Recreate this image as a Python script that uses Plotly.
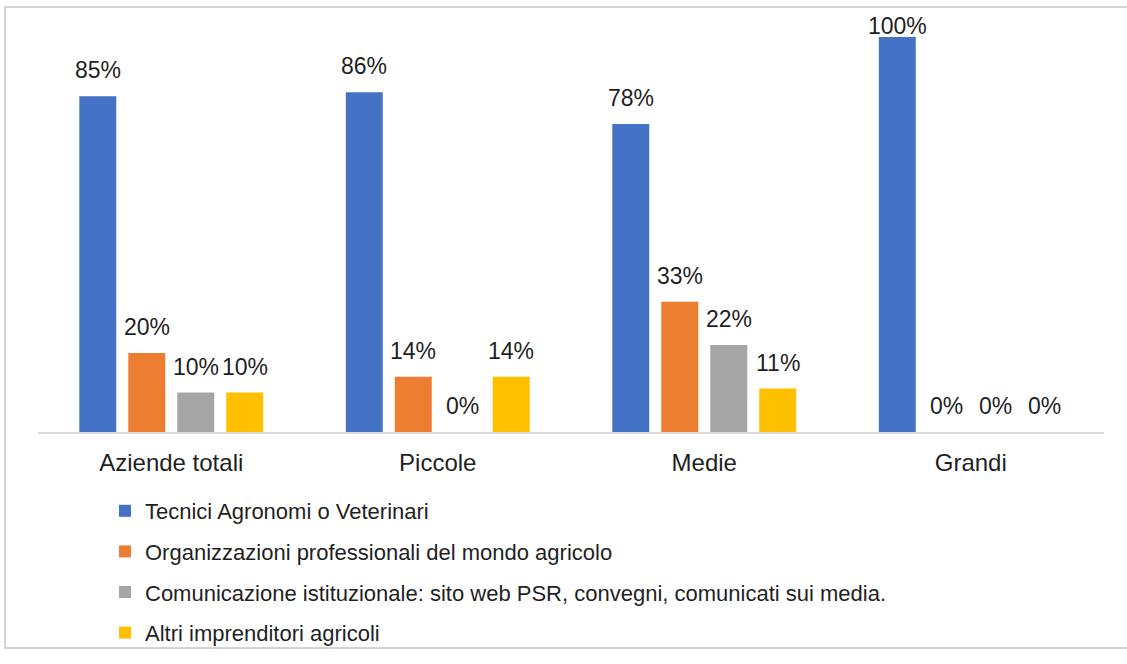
import plotly.graph_objects as go

# Categories (farm size) and share of farms citing each information source
categories = ["Aziende totali", "Piccole", "Medie", "Grandi"]
series_names = [
    "Tecnici Agronomi o Veterinari",
    "Organizzazioni professionali del mondo agricolo",
    "Comunicazione istituzionale: sito web PSR, convegni, comunicati sui media.",
    "Altri imprenditori agricoli",
]
tecnici = [0.85, 0.86, 0.78, 1.00]
organizzazioni = [0.20, 0.14, 0.33, 0.00]
comunicazione = [0.10, 0.00, 0.22, 0.00]
altri = [0.10, 0.14, 0.11, 0.00]

colors = ["#4472C4", "#ED7D31", "#A5A5A5", "#FFC000"]
values = [tecnici, organizzazioni, comunicazione, altri]

FONT = "Liberation Sans, Arial, sans-serif"
TEXT = "#1f1f1f"

# Plot area geometry in pixels
L, R, T, B = 38, 1104, 37, 432
W, H = 1127, 664
pw, ph = R - L, B - T
BARGAP, GROUPGAP = 0.265, 0.245
n_series = len(values)
cat_px = pw / len(categories)
slot_px = cat_px * (1 - BARGAP) / n_series


def px_x(p):
    return (p - L) / pw


def px_y(p):
    return (B - p) / ph


fig = go.Figure()
annotations = []
LABEL_PAD = 11       # gap between bar top and its value label
LABEL_H = 24         # label height used to keep labels inside the chart
TOP_LIMIT = 17       # labels stay below this pixel row
for i, (name, vals, col) in enumerate(zip(series_names, values, colors)):
    fig.add_trace(go.Bar(
        x=categories,
        y=vals,
        name=name,
        legendgroup=f"g{i}",
        marker=dict(color=col, line=dict(width=0)),
        cliponaxis=False,
    ))
    xshift = (i - (n_series - 1) / 2) * slot_px
    for cat, v in zip(categories, vals):
        bar_h = v * ph
        yshift = min(LABEL_PAD, B - bar_h - LABEL_H - TOP_LIMIT)
        annotations.append(dict(
            x=cat, y=v, xref="x", yref="y",
            text=f"{v:.0%}",
            showarrow=False,
            xanchor="center", yanchor="bottom",
            xshift=xshift,
            yshift=yshift,
            font=dict(size=23, color=TEXT, family=FONT),
        ))

fig.update_layout(
    width=W,
    height=H,
    margin=dict(l=L, r=W - R, t=T, b=H - B, autoexpand=False),
    paper_bgcolor="white",
    plot_bgcolor="white",
    barmode="group",
    bargap=BARGAP,
    bargroupgap=GROUPGAP,
    font=dict(family=FONT, color=TEXT),
    showlegend=True,
    annotations=annotations,
    legend=dict(
        orientation="v",
        xref="container",
        yref="container",
        x=105 / W,
        y=1 - 490 / H,
        xanchor="left",
        yanchor="top",
        font=dict(size=22, color=TEXT, family=FONT),
        tracegroupgap=9,
        bgcolor="rgba(0,0,0,0)",
        traceorder="grouped",
    ),
    xaxis=dict(
        showgrid=False,
        showline=True,
        linecolor="#d9d9d9",
        linewidth=2,
        ticks="",
        tickfont=dict(size=24, color=TEXT, family=FONT),
        ticklabelstandoff=8,
        zeroline=False,
        automargin=False,
    ),
    yaxis=dict(
        range=[0, 1.0],
        visible=False,
        showgrid=False,
        zeroline=False,
        automargin=False,
    ),
    shapes=[
        dict(
            type="rect",
            xref="paper",
            yref="paper",
            x0=px_x(5),
            x1=px_x(1140),
            y0=px_y(648),
            y1=px_y(7),
            line=dict(color="#d4d4d4", width=2),
            fillcolor="rgba(0,0,0,0)",
            layer="below",
        )
    ],
)

fig.write_html("out.html")
